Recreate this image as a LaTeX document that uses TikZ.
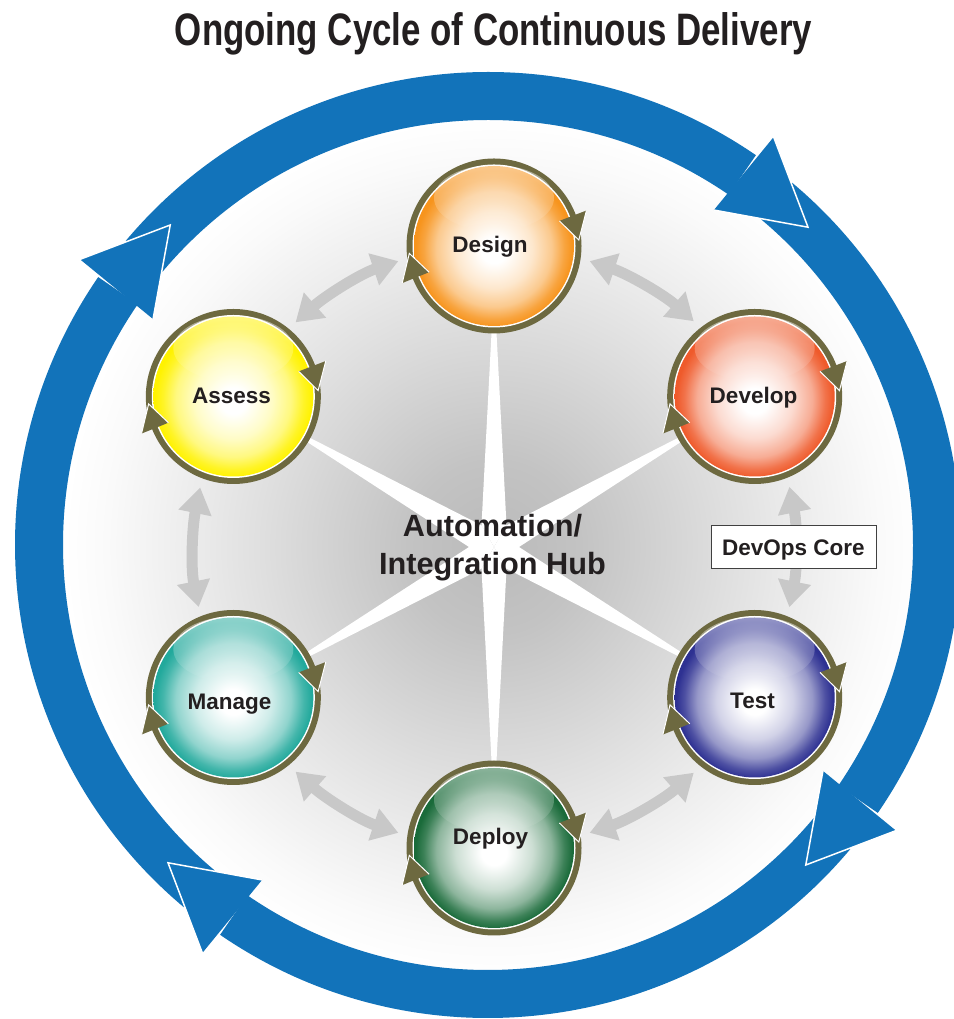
\documentclass[tikz,border=0pt]{standalone}
\usepackage{fontspec}
\setmainfont{Liberation Sans}
\usetikzlibrary{arrows.meta,calc,fadings}

\definecolor{ringblue}{HTML}{1273BA}
\definecolor{olivec}{HTML}{6D6940}
\definecolor{arrgray}{HTML}{C8C8C8}
\definecolor{txtc}{HTML}{231F20}
\definecolor{bgA}{HTML}{BABABA}
\definecolor{bgB}{HTML}{C3C3C3}
\definecolor{bgC}{HTML}{DFDFDF}
\definecolor{bgD}{HTML}{EAEAEA}
\definecolor{bgE}{HTML}{FAFAFA}
\definecolor{cDesign}{HTML}{F7941D}
\definecolor{cDevelop}{HTML}{EF5A2B}
\definecolor{cTest}{HTML}{2E3192}
\definecolor{cDeploy}{HTML}{1A6B3A}
\definecolor{cManage}{HTML}{22A99C}
\definecolor{cAssess}{HTML}{FFF200}
\colorlet{sphc}{cDesign}

% TikZ maps 25bp of a radial shading to the radius of the shaded circle
\pgfdeclareradialshading{hubbg}{\pgfpoint{0bp}{0bp}}{color(0bp)=(bgA); color(5bp)=(bgB); color(13.5bp)=(bgC); color(17bp)=(bgD); color(22.5bp)=(bgE); color(25bp)=(white); color(50bp)=(white)}
\pgfdeclareradialshading[sphc]{sphereshade}{\pgfpoint{0bp}{-1.5bp}}{color(0bp)=(white); color(4bp)=(white); color(12bp)=(sphc!22!white); color(18bp)=(sphc!50!white); color(22bp)=(sphc!85!white); color(24.5bp)=(sphc); color(50bp)=(sphc)}

\newcommand{\ballat}[2]{%
  \begin{scope}[shift={(#1)}]
    \colorlet{sphc}{#2}
    \fill[olivec] (0,0) circle (87.5pt);
    \fill[white] (0,0) circle (81.5pt);
    \shade[shading=sphereshade] (0,0) circle (80pt);
    \fill[white, path fading=south, fill opacity=0.5] (0,48) ellipse (60pt and 33pt);
    \foreach \bb/\tt in {21/4, 202/185}{
      \fill[olivec] (\bb:70) -- (\bb:99) -- (\tt:85) -- cycle;
      \draw[white, line width=1pt, line join=miter] (\bb:99) -- (\tt:85) -- (\bb:70);
    }
  \end{scope}}

\tikzset{
  spnode/.style={circle, minimum size=193.6pt, inner sep=0pt, outer sep=0pt},
  lbl/.style={font=\fontsize{22.5pt}{27pt}\selectfont\bfseries, text=txtc, inner sep=0pt, anchor=base},
  hublbl/.style={font=\fontsize{30.7pt}{36pt}\selectfont\bfseries, text=txtc, inner sep=0pt, anchor=base},
  grayarr/.style={draw=arrgray, line width=11pt,
    arrows={Triangle[width=32pt,length=26pt]-Triangle[width=32pt,length=26pt]}},
  devbox/.style={draw=black!75, line width=0.8pt, fill=white, minimum width=165pt,
    minimum height=43pt, text height=16.1pt, text depth=0pt, inner sep=0pt,
    font=\fontsize{22.5pt}{27pt}\selectfont\bfseries, text=txtc},
  titlestyle/.style={font=\fontsize{45.5pt}{50pt}\selectfont\bfseries, text=txtc, inner sep=0pt, anchor=base}
}

\begin{document}
\begin{tikzpicture}[x=1pt,y=1pt]
\useasboundingbox (0,0) rectangle (953,1019);
\fill[white] (0,0) rectangle (953,1019);

% centres
\coordinate (hub) at (494,472);
\coordinate (rc) at (488,474);

% background gradient
\shade[shading=hubbg] (hub) circle (430pt);

% white star
\foreach \a in {90,30,-30,-90,-150,150}{
  \fill[white] (hub) -- ($(hub)+(\a+30:25)$) -- ($(hub)+(\a:262)$) -- ($(hub)+(\a-30:25)$) -- cycle;
}

% sphere nodes (for connectors)
\node[spnode] (design)  at ($(hub)+(90:301)$) {};
\node[spnode] (develop) at ($(hub)+(30:301)$) {};
\node[spnode] (test)    at ($(hub)+(-30:301)$) {};
\node[spnode] (deploy)  at ($(hub)+(-90:301)$) {};
\node[spnode] (manage)  at ($(hub)+(-150:301)$) {};
\node[spnode] (assess)  at ($(hub)+(150:301)$) {};

% gray double arrows
\foreach \p/\q/\ang in {design/develop/90, develop/test/30, test/deploy/-30, deploy/manage/-90, manage/assess/-150, assess/design/150}{
  \pgfmathsetmacro{\sa}{\ang-99.25}
  \pgfmathsetmacro{\ea}{\ang+39.25}
  \pgfmathsetmacro{\oa}{\ang-108.5}
  \pgfmathsetmacro{\ia}{\ang+48.5}
  \draw[grayarr] (\p.\sa) to[out=\oa, in=\ia, looseness=0.86] (\q.\ea);
}

% blue ring shafts
\foreach \k in {0,1,2,3}{
  \pgfmathsetmacro{\s}{140-90*\k}
  \pgfmathsetmacro{\e}{55.5-90*\k}
  \fill[ringblue] ($(rc)+(\s:473)$) arc[start angle=\s, end angle=\e, radius=473pt]
     -- ($(rc)+(\e:425)$) arc[start angle=\e, end angle=\s, radius=425pt] -- cycle;
}
% blue ring heads
\foreach \k in {0,1,2,3}{
  \pgfmathsetmacro{\bo}{55-90*\k}
  \pgfmathsetmacro{\bi}{56-90*\k}
  \pgfmathsetmacro{\t}{44.8-90*\k}
  \fill[ringblue] ($(rc)+(\bi:404)$) -- ($(rc)+(\bo:498)$) -- ($(rc)+(\t:451)$) -- cycle;
  \draw[white, line width=1.5pt] ($(rc)+(\bo:498)$) -- ($(rc)+(\t:451)$) -- ($(rc)+(\bi:404)$);
}

% spheres
\ballat{design}{cDesign}
\ballat{develop}{cDevelop}
\ballat{test}{cTest}
\ballat{deploy}{cDeploy}
\ballat{manage}{cManage}
\ballat{assess}{cAssess}

% labels
\node[lbl] (designlbl)  at (490,766) {Design};
\node[lbl] (developlbl) at (753.5,615) {Develop};
\node[lbl] (testlbl)    at (752.5,310) {Test};
\node[lbl] (deploylbl)  at (490.5,174) {Deploy};
\node[lbl] (managelbl)  at (229.5,309) {Manage};
\node[lbl] (assesslbl)  at (231.5,615) {Assess};

% hub text
\node[hublbl] (hubtxta) at (492.5,482) {Automation/};
\node[hublbl] (hubtxtb) at (492.5,444) {Integration Hub};

% DevOps Core box
\node[devbox] (devops) at (793.4,471.7) {DevOps Core};

% title
\node[titlestyle] (title) at (493.5,973) {\scalebox{0.766}[1]{Ongoing Cycle of Continuous Delivery}};
\end{tikzpicture}
\end{document}
